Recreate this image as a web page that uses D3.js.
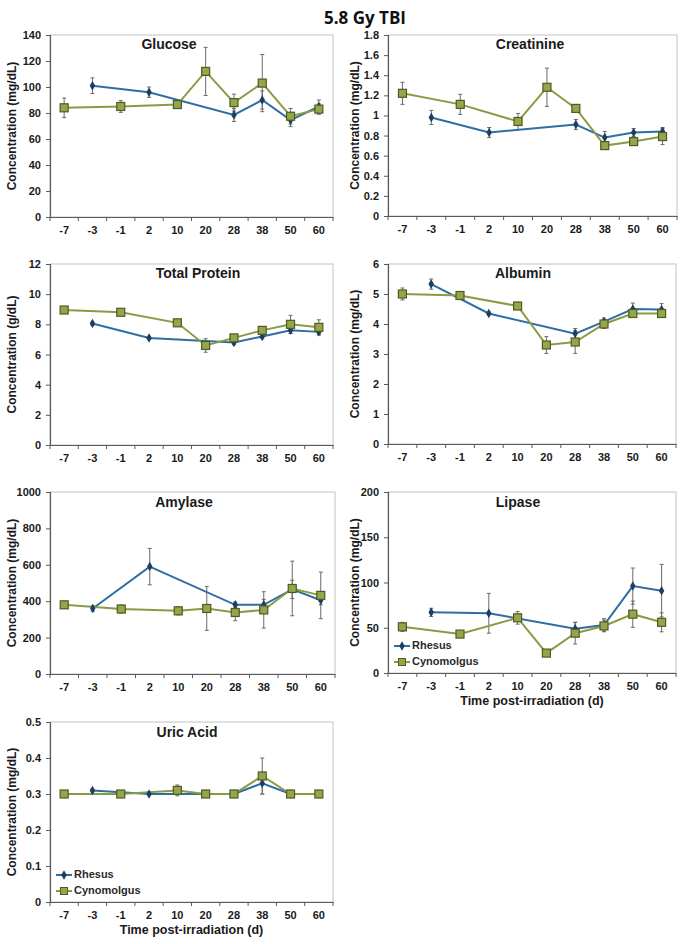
<!DOCTYPE html>
<html><head><meta charset="utf-8">
<script src="https://cdn.jsdelivr.net/npm/d3@7"></script>
<style>body{margin:0;background:#fff}svg{display:block}</style>
</head><body>
<script>
// ---------- DATA ----------
const days = ["-7","-3","-1","2","10","20","28","38","50","60"];
const seriesNames = ["Rhesus","Cynomolgus"];

// values aligned to days; null = no sample
const glucoseRh   = [null,101,null,96,null,null,78.5,90,74.5,85];
const glucoseRhErr= [null,6,null,4,null,null,5,7,5,5];
const glucoseCy   = [84,null,85,null,86.5,112,88,103,77.5,83];
const glucoseCyErr= [7.5,null,4.5,null,2,18.5,6.5,22,6,4];

const creatRh     = [null,0.98,null,0.83,null,null,0.91,0.78,0.83,0.84];
const creatRhErr  = [null,0.07,null,0.05,null,null,0.05,0.06,0.04,0.04];
const creatCy     = [1.22,null,1.11,null,0.94,1.28,1.07,0.70,0.74,0.79];
const creatCyErr  = [0.11,null,0.10,null,0.08,0.19,0.02,0.01,0.03,0.08];

const protRh      = [null,8.05,null,7.1,null,null,6.8,7.2,7.6,7.5];
const protRhErr   = [null,0.1,null,0.1,null,null,0.15,0.15,0.2,0.2];
const protCy      = [8.95,null,8.8,null,8.1,6.6,7.1,7.6,8.0,7.8];
const protCyErr   = [0.1,null,0.1,null,0.1,0.45,0.1,0.15,0.6,0.5];

const albRh       = [null,5.33,null,4.35,null,null,3.68,4.08,4.5,4.48];
const albRhErr    = [null,0.17,null,0.05,null,null,0.17,0.12,0.2,0.2];
const albCy       = [5.0,null,4.95,null,4.6,3.3,3.4,4.0,4.35,4.35];
const albCyErr    = [0.2,null,0.07,null,0.05,0.28,0.38,0.15,0.08,0.08];

const amyRh       = [null,360,null,590,null,null,380,380,465,405];
const amyRhErr    = [null,15,null,100,null,null,15,30,50,25];
const amyCy       = [380,null,357,null,347,360,338,352,470,432];
const amyCyErr    = [20,null,22,null,22,120,45,100,150,128];

const lipRh       = [null,67,null,66,null,null,49,53,96,91];
const lipRhErr    = [null,4.5,null,22,null,null,7,7,20,29];
const lipCy       = [51,null,43,null,61,22,44,52,65,56];
const lipCyErr    = [5,null,3,null,7,1,12,6.5,14.5,10.5];

const uricRh      = [null,0.31,null,0.30,null,null,0.30,0.33,0.30,0.30];
const uricRhErr   = [null,0.004,null,0.002,null,null,0.002,0.03,0.002,0.002];
const uricCy      = [0.30,null,0.30,null,0.31,0.30,0.30,0.35,0.30,0.30];
const uricCyErr   = [0.002,null,0.003,null,0.015,0.002,0.002,0.05,0.002,0.002];

const panelTitles = ["Glucose","Creatinine","Total Protein","Albumin","Amylase","Lipase","Uric Acid"];
const yLabels = ["Concentration (mg/dL)","Concentration (mg/dL)","Concentration (g/dL)","Concentration (mg/dL)","Concentration (mg/dL)","Concentration (mg/dL)","Concentration (mg/dL)"];
const yMax   = [140,1.8,12,6,1000,200,0.5];
const yStep  = [20,0.2,2,1,200,50,0.1];
const panelRh = [glucoseRh,creatRh,protRh,albRh,amyRh,lipRh,uricRh];
const panelRhErr = [glucoseRhErr,creatRhErr,protRhErr,albRhErr,amyRhErr,lipRhErr,uricRhErr];
const panelCy = [glucoseCy,creatCy,protCy,albCy,amyCy,lipCy,uricCy];
const panelCyErr = [glucoseCyErr,creatCyErr,protCyErr,albCyErr,amyCyErr,lipCyErr,uricCyErr];

// ---------- LAYOUT ----------
const layout = [
  {L:50,R:333,T:35,B:217,tx:169,ty:44,ylx:13},
  {L:388,R:677,T:35,B:216,tx:530,ty:44,ylx:356},
  {L:50,R:333,T:264,B:445,tx:198,ty:273,ylx:13},
  {L:388,R:676,T:264,B:444,tx:523,ty:273,ylx:356},
  {L:50,R:335,T:492,B:674,tx:184,ty:502,ylx:13},
  {L:388,R:676,T:492,B:673,tx:518,ty:502,ylx:356,legend:true,xTitle:true},
  {L:50,R:333,T:722,B:902,tx:187,ty:732,ylx:13,legend:true,xTitle:true}
];

const W=690,H=944;
const C = {rhLine:"#2f6ea3", rhMark:"#1d3d63", cyLine:"#8a9b45", cyFill:"#93a64a", cyStroke:"#4f5b20", err:"#6a6a6a", axis:"#5a5a5a", frame:"#c4c4c4", text:"#1a1a1a"};
const FONT = "Liberation Sans, Arial, sans-serif";

const svg = d3.select("body").append("svg").attr("width",W).attr("height",H);

svg.append("text").attr("x",365).attr("y",19).attr("text-anchor","middle").attr("dominant-baseline","middle")
  .attr("font-family","Open Sans, sans-serif").attr("font-weight","bold").attr("font-size",17).attr("fill","#111")
  .text("5.8 Gy TBI");

const diamond = d3.symbol().type(d3.symbolDiamond).size(26);

panelTitles.forEach((title,i)=>{
  const lay = layout[i];
  const x = d3.scaleBand().domain(days).range([lay.L,lay.R]);
  const y = d3.scaleLinear().domain([0,yMax[i]]).range([lay.B,lay.T]);
  const g = svg.append("g");

  // frame
  g.append("rect").attr("x",lay.L).attr("y",lay.T).attr("width",lay.R-lay.L).attr("height",lay.B-lay.T)
    .attr("fill","none").attr("stroke",C.frame).attr("stroke-width",1);

  // y axis
  const nT = Math.round(yMax[i]/yStep[i]);
  const yt = d3.range(nT+1).map(k=>+(k*yStep[i]).toFixed(4));
  const ya = g.append("g").attr("transform",`translate(${lay.L},0)`)
    .call(d3.axisLeft(y).tickValues(yt).tickSize(4).tickPadding(5).tickFormat(d=>String(d)));
  ya.select(".domain").attr("stroke",C.axis).attr("stroke-width",1.2);
  ya.selectAll(".tick line").attr("stroke",C.axis);
  ya.selectAll(".tick text").attr("font-family",FONT).attr("font-weight","bold").attr("font-size",11).attr("fill",C.text);

  // x axis: ticks at band boundaries
  const xa = g.append("g").attr("transform",`translate(0,${lay.B})`)
    .call(d3.axisBottom(x).tickSize(0).tickPadding(9));
  xa.select(".domain").attr("stroke",C.axis).attr("stroke-width",1.2);
  xa.selectAll(".tick text").attr("font-family",FONT).attr("font-weight","bold").attr("font-size",11).attr("fill",C.text);
  const bounds = days.map(d=>x(d)).concat([lay.R]);
  g.selectAll(".xb").data(bounds).enter().append("line")
    .attr("x1",d=>d).attr("x2",d=>d).attr("y1",lay.B).attr("y2",lay.B+4).attr("stroke",C.axis);

  // titles
  g.append("text").attr("x",lay.tx).attr("y",lay.ty+5).attr("text-anchor","middle")
    .attr("font-family",FONT).attr("font-weight","bold").attr("font-size",14).attr("fill",C.text).text(title);
  g.append("text").attr("transform",`translate(${lay.ylx},${(lay.T+lay.B)/2}) rotate(-90)`)
    .attr("text-anchor","middle").attr("dominant-baseline","middle")
    .attr("font-family",FONT).attr("font-weight","bold").attr("font-size",12).attr("fill",C.text).text(yLabels[i]);
  if(lay.xTitle){
    g.append("text").attr("x",(lay.L+lay.R)/2).attr("y",lay.B+32).attr("text-anchor","middle")
      .attr("font-family",FONT).attr("font-weight","bold").attr("font-size",12.5).attr("fill",C.text).text("Time post-irradiation  (d)");
  }

  const cx = d=>x(d.day)+x.bandwidth()/2;
  const mk = (vals,errs)=>days.map((d,k)=>({day:d,v:vals[k],e:errs[k]})).filter(p=>p.v!==null);
  const rh = mk(panelRh[i],panelRhErr[i]);
  const cy = mk(panelCy[i],panelCyErr[i]);
  const line = d3.line().x(cx).y(d=>y(d.v));

  // error bars
  [rh,cy].forEach(s=>{
    const eb = g.append("g");
    s.forEach(p=>{
      const x0=cx(p), y1=y(p.v+p.e), y2=y(p.v-p.e);
      eb.append("line").attr("x1",x0).attr("x2",x0).attr("y1",y1).attr("y2",y2).attr("stroke",C.err).attr("stroke-width",1);
      [y1,y2].forEach(yy=>eb.append("line").attr("x1",x0-2).attr("x2",x0+2).attr("y1",yy).attr("y2",yy).attr("stroke",C.err).attr("stroke-width",1));
    });
  });

  g.append("path").attr("d",line(rh)).attr("fill","none").attr("stroke",C.rhLine).attr("stroke-width",2);
  g.append("path").attr("d",line(cy)).attr("fill","none").attr("stroke",C.cyLine).attr("stroke-width",2);

  g.selectAll(".rhm").data(rh).enter().append("path").attr("d",diamond)
    .attr("transform",d=>`translate(${cx(d)},${y(d.v)})`).attr("fill",C.rhMark);
  g.selectAll(".cym").data(cy).enter().append("rect")
    .attr("x",d=>cx(d)-4).attr("y",d=>y(d.v)-4).attr("width",8).attr("height",8)
    .attr("fill",C.cyFill).attr("stroke",C.cyStroke).attr("stroke-width",1.2);

  if(lay.legend){
    const lx = lay.L+6, ly = lay.B-27;
    const items = [{n:seriesNames[0],c:C.rhLine},{n:seriesNames[1],c:C.cyLine}];
    items.forEach((it,k)=>{
      const yy = ly + k*16;
      g.append("line").attr("x1",lx).attr("x2",lx+16).attr("y1",yy).attr("y2",yy).attr("stroke",it.c).attr("stroke-width",2);
      if(k===0) g.append("path").attr("d",diamond).attr("transform",`translate(${lx+8},${yy})`).attr("fill",C.rhMark);
      else g.append("rect").attr("x",lx+4.5).attr("y",yy-3.5).attr("width",7).attr("height",7).attr("fill",C.cyFill).attr("stroke",C.cyStroke);
      g.append("text").attr("x",lx+18).attr("y",yy).attr("dominant-baseline","middle")
        .attr("font-family",FONT).attr("font-weight","bold").attr("font-size",11).attr("fill","#2a2a2a").text(it.n);
    });
  }
});
</script>
</body></html>
